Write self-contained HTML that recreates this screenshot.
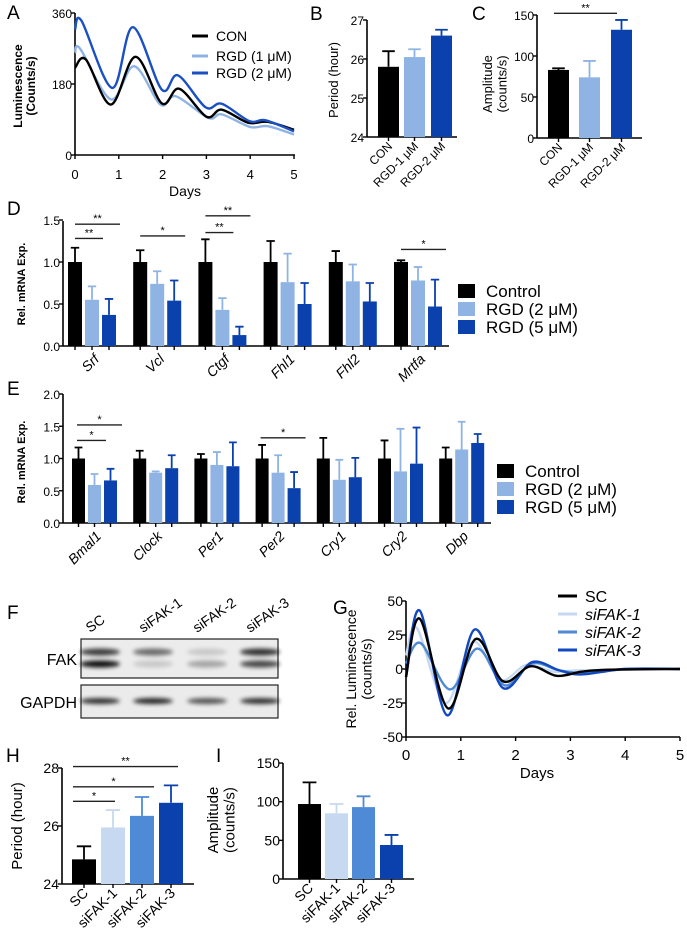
<!DOCTYPE html>
<html><head><meta charset="utf-8"><style>
body{margin:0;background:#fff}
svg{display:block;font-family:"Liberation Sans",sans-serif}
</style></head><body>
<svg id="fig" width="687" height="942" viewBox="0 0 687 942" xmlns="http://www.w3.org/2000/svg">
<defs><filter id="blur" x="-20%" y="-100%" width="140%" height="300%"><feGaussianBlur stdDeviation="2"/></filter></defs>
</svg>
<script>
// ---------- DATA ----------
const aConDays=[0,0.25,0.82,1.38,1.98,2.38,3.0,3.35,3.95,4.4,5];
const aCon=[221,242,128,249,131,168,97,115,82,84,64];
const aRgd1Days=[0,0.12,0.82,1.35,1.95,2.3,3.05,3.35,4.0,4.4,5];
const aRgd1=[259,269,141,225,128,149,94,103,71,73,52];
const aRgd2Days=[0,0.15,0.85,1.32,1.98,2.35,2.98,3.35,3.98,4.35,5];
const aRgd2=[318,340,170,324,166,202,121,130,86,88,60];
const aTicks=[0,180,360];
const dayTicks=[0,1,2,3,4,5];

const bCats=["CON","RGD-1 μM","RGD-2 μM"];
const bVals=[25.8,26.05,26.6];
const bErr=[0.4,0.2,0.15];
const bTicks=[24,25,26,27];
const cVals=[83,74,132];
const cErr=[2,20,12];
const cTicks=[0,50,100,150];

const dGenes=["Srf","Vcl","Ctgf","Fhl1","Fhl2","Mrtfa"];
const dControl=[1,1,1,1,1,1];
const dControlErr=[0.17,0.14,0.27,0.25,0.13,0.02];
const dRgd2=[0.55,0.74,0.43,0.76,0.77,0.78];
const dRgd2Err=[0.16,0.15,0.14,0.34,0.2,0.16];
const dRgd5=[0.37,0.54,0.13,0.5,0.53,0.47];
const dRgd5Err=[0.19,0.24,0.1,0.25,0.22,0.32];
const dTicks=[0,0.5,1,1.5];

const eGenes=["Bmal1","Clock","Per1","Per2","Cry1","Cry2","Dbp"];
const eControl=[1,1,1,1,1,1,1];
const eControlErr=[0.17,0.12,0.07,0.21,0.32,0.28,0.17];
const eRgd2=[0.59,0.78,0.9,0.78,0.67,0.8,1.14];
const eRgd2Err=[0.17,0.02,0.2,0.27,0.31,0.66,0.43];
const eRgd5=[0.66,0.85,0.88,0.54,0.71,0.92,1.24];
const eRgd5Err=[0.18,0.2,0.37,0.25,0.3,0.56,0.14];
const eTicks=[0,0.5,1,1.5,2];

const gScDays=[0,0.25,0.77,1.27,1.77,2.27,2.75,3.2,3.7,5];
const gSc=[-6,37,-29,22,-9,2,-5,-2,-0.5,0];
const gF1Days=[0,0.2,0.72,1.22,1.72,2.2,2.7,3.2,5];
const gF1=[10,30,-25,20,-8,3,-2,-1,0];
const gF2Days=[0,0.27,0.8,1.3,1.8,2.3,2.8,3.3,4,5];
const gF2=[4,19,-15,15,-12,4,-1,-3,0,0];
const gF3Days=[0,0.25,0.75,1.25,1.77,2.3,2.8,3.2,4,5];
const gF3=[-6,43,-34,29,-14,5,-1,-4,0,0];
const gTicks=[-50,-25,0,25,50];

const siCats=["SC","siFAK-1","siFAK-2","siFAK-3"];
const hVals=[24.85,25.95,26.35,26.8];
const hErr=[0.45,0.6,0.65,0.6];
const hTicks=[24,26,28];
const iVals=[97,85,93,44];
const iErr=[28,12,14,13];
const iTicks=[0,50,100,150];

// ---------- HELPERS ----------
const NS='http://www.w3.org/2000/svg';
const svg=document.getElementById('fig');
function mk(tag,attrs,parent){const e=document.createElementNS(NS,tag);for(const k in attrs)e.setAttribute(k,attrs[k]);(parent||svg).appendChild(e);return e;}
function txt(s,x,y,size,extra){const t=mk('text',Object.assign({x:x,y:y,'font-size':size},extra||{}));t.textContent=s;return t;}
function smooth(pts){let d='M'+pts[0][0]+','+pts[0][1];for(let i=0;i<pts.length-1;i++){const p0=pts[i-1]||pts[i],p1=pts[i],p2=pts[i+1],p3=pts[i+2]||p2;const c1x=p1[0]+(p2[0]-p0[0])/6,c1y=p1[1]+(p2[1]-p0[1])/6,c2x=p2[0]-(p3[0]-p1[0])/6,c2y=p2[1]-(p3[1]-p1[1])/6;d+=' C'+c1x+','+c1y+' '+c2x+','+c2y+' '+p2[0]+','+p2[1];}return d;}
function yAxis(x,y0,y1,ticks,yf,size,fmt){
  const l=mk('line',{x1:x,y1:y0,x2:x,y2:y1,stroke:'#000','stroke-width':1.6});
  
  
  ticks.forEach(v=>{const y=yf(v);mk('line',{x1:x-4,y1:y,x2:x,y2:y,stroke:'#000','stroke-width':1.4});
    const t=txt(fmt?fmt(v):String(v),x-3,y+5,size,{'text-anchor':'end'});
    
    });
}
function xAxis(x0,x1,y){const l=mk('line',{x1:x0,y1:y,x2:x1,y2:y,stroke:'#000','stroke-width':1.6});
  
  }
function bar(x,w,yTop,yBase,err,yf,val,color,name){
  const r=mk('rect',{x:x,y:yTop,width:w,height:yBase-yTop,fill:color});
  
  
  const ye=yf(val+err),cx=x+w/2;
  const e=mk('path',{d:'M'+cx+','+yTop+' V'+ye+' M'+(cx-w*0.3)+','+ye+' H'+(cx+w*0.3),stroke:color,'stroke-width':1.8,fill:'none'});
  
  
  mk('line',{x1:cx,y1:yBase,x2:cx,y2:yBase+4,stroke:'#000','stroke-width':1.4});
}
function rotLabel(s,x,y,size,italic,name){const t=txt(s,x,y,size,{'text-anchor':'end',transform:'rotate(-45 '+x+' '+y+')','font-style':italic?'italic':'normal'});
  
  }
function sig(x0,x1,y,s){const l=mk('line',{x1:x0,y1:y,x2:x1,y2:y,stroke:'#222','stroke-width':1.4});
  
  
  const t=txt(s,(x0+x1)/2,y-2,11,{'text-anchor':'middle'});
  
  }
function panel(s,x,y){const t=txt(s,x,y,19,{});}
function ytitle(lines,x,cy,size,bold){lines.forEach((s,i)=>{const t=txt(s,x+i*size*1.1,cy,size,{'text-anchor':'middle',transform:'rotate(-90 '+(x+i*size*1.1)+' '+cy+')','font-weight':bold?'bold':'normal'});
  
  });}
const BLACK='#000',LB='#8fb4e3',DB='#0a41ad',VLB='#c6d9f1',MB='#4e8ad6';

// ---------- PANEL A ----------
panel('A',7,19);
const xa=d=>75+d*43.8, ya=v=>155-v*142/360;
yAxis(75,13,155,aTicks,ya,12);
xAxis(75,295,155);
dayTicks.forEach(d=>{mk('line',{x1:xa(d),y1:155,x2:xa(d),y2:159,stroke:'#000','stroke-width':1.4});const t=txt(String(d),xa(d),179,13,{'text-anchor':'middle'});});
{const t=txt('Days',185,196,14,{'text-anchor':'middle'});}
ytitle(['Luminescence','(Counts/s)'],22,86,12,true);
[[aRgd1Days,aRgd1,LB,'line-rgd-1um'],[aConDays,aCon,BLACK,'line-con'],[aRgd2Days,aRgd2,'#1a50c2','line-rgd-2um']].forEach(s=>{
  const p=mk('path',{d:smooth(s[0].map((d,i)=>[xa(d),ya(s[1][i])])),fill:'none',stroke:s[2],'stroke-width':2.4});
  
  });
[['CON',BLACK,36],['RGD (1 μM)',LB,56],['RGD (2 μM)','#1a50c2',73]].forEach(r=>{
  mk('line',{x1:192,y1:r[2],x2:208,y2:r[2],stroke:r[1],'stroke-width':3});
  const t=txt(r[0],216,r[2]+5,14,{});
  
  });

// ---------- PANEL B ----------
panel('B',310,20);
const yb=v=>137-(v-24)*39;
yAxis(367,20,137,bTicks,yb,12);
xAxis(367,457,137);
const bX=[378,404,431],bCol=[BLACK,LB,DB];
bVals.forEach((v,i)=>{bar(bX[i],21,yb(v),137,bErr[i],yb,v,bCol[i],'bar-period-'+i);rotLabel(bCats[i],bX[i]+15,147,12,false,'x-tick-label');});
ytitle(['Period (hour)'],338,80,13,false);

// ---------- PANEL C ----------
panel('C',472,20);
const yc=v=>138-v*0.82;
yAxis(537,15,138,cTicks,yc,12);
xAxis(537,642,138);
const cX=[548,579,611];
cVals.forEach((v,i)=>{bar(cX[i],21,yc(v),138,cErr[i],yc,v,bCol[i],'bar-amplitude-'+i);rotLabel(bCats[i],cX[i]+15,148,12,false,'x-tick-label');});
sig(554,617,yc(152),'**');
ytitle(['Amplitude','(counts/s)'],492,84,13,false);

// ---------- PANEL D ----------
panel('D',7,215);
const yd=v=>346-v*84;
yAxis(63,221,346,dTicks,yd,12,v=>v.toFixed(1));
xAxis(63,449,346);
ytitle(['Rel. mRNA Exp.'],25,284,11,true);
dGenes.forEach((g,i)=>{const x=68+i*65.2;
  bar(x,14,yd(dControl[i]),346,dControlErr[i],yd,dControl[i],BLACK,'bar-'+g.toLowerCase()+'-control');
  bar(x+17,14,yd(dRgd2[i]),346,dRgd2Err[i],yd,dRgd2[i],LB,'bar-'+g.toLowerCase()+'-rgd2');
  bar(x+34,14,yd(dRgd5[i]),346,dRgd5Err[i],yd,dRgd5[i],DB,'bar-'+g.toLowerCase()+'-rgd5');
  rotLabel(g,x+32,360,14,true,'gene-label');});
const dSig=[[0,2,1.45,'**'],[0,1,1.28,'**'],[1,2,1.31,'*'],[2,2,1.55,'**'],[2,1,1.35,'**'],[5,2,1.15,'*']];
dSig.forEach(s=>{const x=68+s[0]*65.2;sig(x+7,x+17*s[1]+18,yd(s[2]),s[3]);});
[['Control',BLACK,291],['RGD (2 μM)',LB,309],['RGD (5 μM)',DB,327]].forEach(r=>{
  const q=mk('rect',{x:458,y:r[2]-7,width:17,height:14,fill:r[1]});
  
  
  const t=txt(r[0],486,r[2]+6,17,{});
  
  });

// ---------- PANEL E ----------
panel('E',7,395);
const ye=v=>523-v*64.5;
yAxis(63,394,523,eTicks,ye,12,v=>v.toFixed(1));
xAxis(63,491,523);
ytitle(['Rel. mRNA Exp.'],25,462,11,true);
eGenes.forEach((g,i)=>{const x=72+i*61.2;
  bar(x,13,ye(eControl[i]),523,eControlErr[i],ye,eControl[i],BLACK,'bar-'+g.toLowerCase()+'-control');
  bar(x+16,13,ye(eRgd2[i]),523,eRgd2Err[i],ye,eRgd2[i],LB,'bar-'+g.toLowerCase()+'-rgd2');
  bar(x+32,13,ye(eRgd5[i]),523,eRgd5Err[i],ye,eRgd5[i],DB,'bar-'+g.toLowerCase()+'-rgd5');
  rotLabel(g,x+30,537,14,true,'gene-label');});
const eSig=[[0,2,1.52,'*'],[0,1,1.28,'*'],[3,2,1.32,'*']];
eSig.forEach(s=>{const x=72+s[0]*61.2;sig(x+5,x+16*s[1]+18,ye(s[2]),s[3]);});
[['Control',BLACK,471],['RGD (2 μM)',LB,489],['RGD (5 μM)',DB,507]].forEach(r=>{
  const q=mk('rect',{x:497,y:r[2]-7,width:17,height:14,fill:r[1]});
  
  
  const t=txt(r[0],525,r[2]+6,17,{});
  
  });

// ---------- PANEL F (western blot) ----------
panel('F',7,619);
const fakBox=mk('rect',{x:81,y:639,width:197,height:39,fill:'#ececec',stroke:'#222','stroke-width':1.2});


const gBox=mk('rect',{x:81,y:685,width:197,height:33,fill:'#ebebeb',stroke:'#222','stroke-width':1.2});


const lanes=[100,153,207,260];
const fakTop=[0.75,0.55,0.15,0.8],fakLow=[0.95,0.15,0.3,0.7],gap=[0.8,0.85,0.65,0.8];
lanes.forEach((cx,i)=>{
  mk('ellipse',{cx:cx,cy:652,rx:20,ry:3.5,fill:'#000',opacity:fakTop[i],filter:'url(#blur)'});
  mk('ellipse',{cx:cx,cy:664,rx:20,ry:3.5,fill:'#000',opacity:fakLow[i],filter:'url(#blur)'});
  mk('ellipse',{cx:cx,cy:701,rx:20,ry:3,fill:'#000',opacity:gap[i],filter:'url(#blur)'});
  const t=txt(siCats[i],cx-10,633,14,{transform:'rotate(-35 '+(cx-10)+' 633)'});
  
  });
{const t=txt('FAK',77,665,16,{'text-anchor':'end'});}
{const t=txt('GAPDH',77,708,16,{'text-anchor':'end'});}

// ---------- PANEL G ----------
panel('G',333,614);
const xg=d=>406+d*54.8, yg=v=>669-v*1.36;
yAxis(406,601,737,gTicks,yg,14);
xAxis(406,680,737);
dayTicks.forEach(d=>{mk('line',{x1:xg(d),y1:737,x2:xg(d),y2:741,stroke:'#000','stroke-width':1.4});const t=txt(String(d),xg(d),760,15,{'text-anchor':'middle'});});
{const t=txt('Days',537,778,15,{'text-anchor':'middle'});}
ytitle(['Rel. Luminescence','(counts/s)'],356,669,14,false);
[[gF1Days,gF1,VLB,'line-sifak-1'],[gF2Days,gF2,MB,'line-sifak-2'],[gF3Days,gF3,'#1248c0','line-sifak-3'],[gScDays,gSc,BLACK,'line-sc']].forEach(s=>{
  const p=mk('path',{d:smooth(s[0].map((d,i)=>[xg(d),yg(s[1][i])])),fill:'none',stroke:s[2],'stroke-width':2.4});
  
  });
[['SC',BLACK,596,false],['siFAK-1',VLB,614,true],['siFAK-2',MB,632,true],['siFAK-3','#1248c0',650,true]].forEach(r=>{
  mk('line',{x1:558,y1:r[2],x2:577,y2:r[2],stroke:r[1],'stroke-width':3});
  const t=txt(r[0],585,r[2]+6,16,{'font-style':r[3]?'italic':'normal'});
  
  });

// ---------- PANEL H ----------
panel('H',6,762);
const yh=v=>884-(v-24)*29;
yAxis(62,768,884,hTicks,yh,14);
xAxis(62,194,884);
const hX=[72,101,130,159],hCol=[BLACK,VLB,MB,DB];
hVals.forEach((v,i)=>{bar(hX[i],24,yh(v),884,hErr[i],yh,v,hCol[i],'bar-period-'+siCats[i].toLowerCase());rotLabel(siCats[i],hX[i]+17,894,14,false,'x-tick-label');});
sig(73,115,yh(26.85),'*');sig(73,154,yh(27.35),'*');sig(73,178,yh(28.05),'**');
ytitle(['Period (hour)'],22,826,15,false);

// ---------- PANEL I ----------
panel('I',216,762);
const yi=v=>879-v*0.773;
yAxis(283,763,879,iTicks,yi,14);
xAxis(283,414,879);
const iX=[298,325,352,380];
iVals.forEach((v,i)=>{bar(iX[i],23,yi(v),879,iErr[i],yi,v,hCol[i],'bar-amplitude-'+siCats[i].toLowerCase());rotLabel(siCats[i],iX[i]+16,889,14,false,'x-tick-label');});
ytitle(['Amplitude','(counts/s)'],218,820,15,false);
</script>
</body></html>
